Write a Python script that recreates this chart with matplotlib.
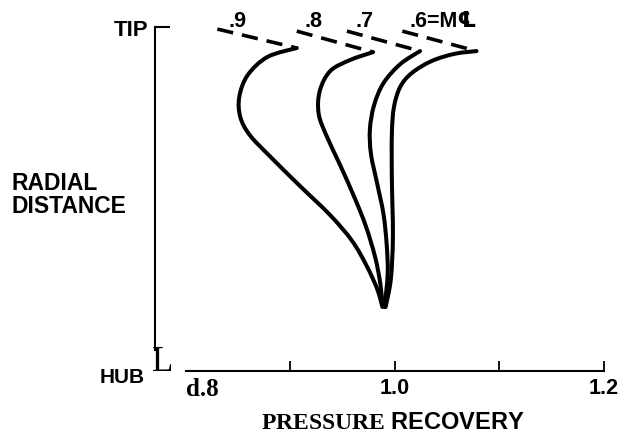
#!/usr/bin/env python3
# pressure recovery vs radial distance, one curve per centreline Mach number
# dashed lead-in at the tip, curves all pinch together near the hub

import numpy as np
import matplotlib.pyplot as plt
from matplotlib.path import Path
from matplotlib.patches import PathPatch

plt.rcParams['mathtext.fontset'] = 'custom'
plt.rcParams['mathtext.bf'] = 'Liberation Serif:bold'
plt.rcParams['mathtext.rm'] = 'Liberation Serif'

#-----------------
#data
#-----------------
machLabels = ['.9', '.8', '.7', '.6=M\u2104']

# pressure recovery / radial distance (0 = hub, 1 = tip), from tip down to hub
rec09 = [0.906, 0.878, 0.859, 0.851, 0.852, 0.861, 0.880, 0.909, 0.938, 0.959, 0.973, 0.983, 0.988]
rad09 = [0.939, 0.913, 0.860, 0.797, 0.738, 0.686, 0.625, 0.538, 0.453, 0.378, 0.305, 0.238, 0.186]

rec08 = [0.979, 0.957, 0.938, 0.928, 0.927, 0.935, 0.947, 0.961, 0.972, 0.981, 0.986, 0.988]
rad08 = [0.927, 0.904, 0.872, 0.814, 0.747, 0.680, 0.602, 0.506, 0.422, 0.331, 0.253, 0.189]

rec07 = [1.024, 1.005, 0.989, 0.980, 0.976, 0.977, 0.983, 0.989, 0.992, 0.993, 0.990]
rad07 = [0.930, 0.892, 0.837, 0.773, 0.703, 0.631, 0.544, 0.456, 0.369, 0.282, 0.186]

rec06 = [1.078, 1.057, 1.035, 1.016, 1.005, 0.999, 0.997, 0.997, 0.998, 0.996, 0.991]
rad06 = [0.930, 0.922, 0.901, 0.866, 0.826, 0.767, 0.689, 0.558, 0.392, 0.267, 0.186]

# dashed tip lines: start point, end point is the curve tip
dashRec = [[0.830, 0.906], [0.906, 0.979], [0.954, 1.024], [1.007, 1.078]]
dashRad = [[0.994, 0.939], [0.988, 0.927], [0.988, 0.930], [0.988, 0.930]]

xTicks = [0.8, 1.0, 1.2]
xTickLabels = ['d.8', '1.0', '1.2']
xMinorTicks = [0.9, 1.1]

#-----------------
#functions
#-----------------
def smoothPath(xs, ys):
    #catmull-rom through the read points, handed to matplotlib as cubic bezier segments
    pts = np.column_stack([xs, ys])
    ext = np.vstack([pts[0], pts, pts[-1]])
    verts = [pts[0]]
    codes = [Path.MOVETO]
    for i in range(len(pts) - 1):
        p0, p1, p2, p3 = ext[i], ext[i + 1], ext[i + 2], ext[i + 3]
        verts += [p1 + (p2 - p0) / 6.0, p2 - (p3 - p1) / 6.0, p2]
        codes += [Path.CURVE4] * 3
    return Path(verts, codes)

#-----------------
#plot
#-----------------
fig = plt.figure(figsize=(6.25, 4.39), dpi=100)
ax = fig.add_axes([0, 0, 1, 1])
ax.set_xlim(0.62201, 1.22010)
ax.set_ylim(-0.19477, 1.08140)
ax.patch.set_alpha(0)

curves = [(rec09, rad09), (rec08, rad08), (rec07, rad07), (rec06, rad06)]
for iCurve in range(len(curves)):
    ax.add_patch(PathPatch(smoothPath(curves[iCurve][0], curves[iCurve][1]),
                           fill=False, edgecolor='black', lw=2.9,
                           capstyle='round', joinstyle='round'))
    ax.plot(dashRec[iCurve], dashRad[iCurve], color='black', lw=2.6,
            dashes=(4.5, 2.5))

labelX = [0.849, 0.922, 0.971, 1.014]
for iCurve in range(len(machLabels)):
    ha = 'left' if iCurve == 3 else 'center'
    ax.text(labelX[iCurve], 1.018, machLabels[iCurve], ha=ha, va='center',
            fontsize=15.5, fontweight='bold',
            family=['Liberation Sans', 'DejaVu Sans'])

# axes
for side in ['top', 'right']:
    ax.spines[side].set_visible(False)
ax.spines['bottom'].set_position(('data', 0))
ax.spines['bottom'].set_bounds(0.8, 1.2)
ax.spines['bottom'].set_linewidth(1.5)
ax.spines['left'].set_position(('data', 0.7703))
ax.spines['left'].set_bounds(0.06, 1.0)
ax.spines['left'].set_linewidth(1.5)

ax.set_xticks(xTicks)
ax.set_xticklabels(xTickLabels)
ax.set_xticks(xMinorTicks, minor=True)
ax.tick_params(axis='x', which='both', direction='in', length=7, width=1.3,
               pad=4, labelsize=15.5)
ax.xaxis.get_major_ticks()[0].tick1line.set_visible(False)
xLabs = ax.get_xticklabels()
for lab in xLabs:
    lab.set_fontfamily('Liberation Sans')
    lab.set_fontweight('bold')
xLabs[0].set_fontfamily('Liberation Serif')
xLabs[0].set_fontsize(18)
xLabs[0].set_ha('left')
xLabs[0].set_x(0.789)

ax.set_yticks([1.0])
ax.set_yticklabels(['TIP'])
ax.tick_params(axis='y', direction='in', length=10.5, width=1.5, pad=5,
               labelsize=16)
for lab in ax.get_yticklabels():
    lab.set_fontfamily('Liberation Sans')
    lab.set_fontweight('bold')

ax.text(0.761, -0.015, 'HUB', ha='right', va='center', fontsize=15,
        fontweight='bold', family='Liberation Sans')
ax.text(0.778, 0.027, 'L', ha='center', va='center', fontsize=25,
        family='Liberation Serif')

ax.set_ylabel('RADIAL\nDISTANCE', rotation=0, ha='left', va='center',
              multialignment='left', fontsize=16.5, fontweight='bold',
              family='Liberation Sans', linespacing=1.0)
ax.yaxis.set_label_coords(0.019, 1 - 195 / 439)

ax.set_xlabel(r'$\mathbf{PRESSURE}$ RECOVERY', fontsize=17,
              fontweight='bold', family='Liberation Sans')
ax.xaxis.set_label_coords(0.628, 1 - 423 / 439)
ax.xaxis.label.set_va('center')

plt.savefig('out.png', dpi=100)
